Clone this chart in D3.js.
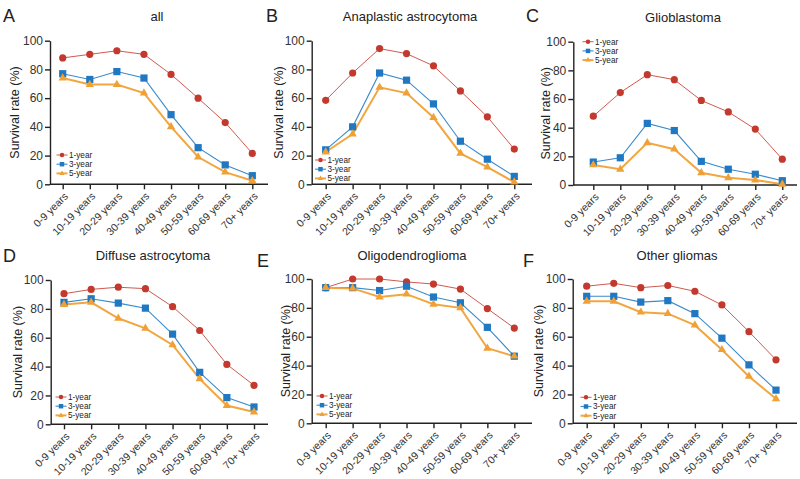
<!DOCTYPE html>
<html>
<head>
<meta charset="utf-8">
<script src="https://cdn.jsdelivr.net/npm/d3@7"></script>
<style>
  body { margin: 0; background: #fff; }
  svg { font-family: "Liberation Sans", Arial, sans-serif; }
  .axis path, .axis line { stroke: #222; stroke-width: 1.4; }
  .axis text { fill: #333; }
</style>
</head>
<body>
<div id="chart"></div>
<script>
// age groups on every x axis
var ageGroups = ["0-9 years", "10-19 years", "20-29 years", "30-39 years",
                 "40-49 years", "50-59 years", "60-69 years", "70+ years"];
var yTicks = [0, 20, 40, 60, 80, 100];
var seriesNames = ["1-year", "3-year", "5-year"];
var panelTitles = ["all", "Anaplastic astrocytoma", "Glioblastoma",
                   "Diffuse astrocytoma", "Oligodendroglioma", "Other gliomas"];
var panelLetters = ["A", "B", "C", "D", "E", "F"];

// survival rate (%) per panel: 1-year, 3-year, 5-year
var allOne   = [88, 90.5, 93, 90.5, 76.5, 60, 43, 21.5];
var allThree = [77, 73, 78.5, 74, 48.5, 25.5, 13.5, 6];
var allFive  = [74, 69.5, 69.5, 63.5, 40, 19, 8.5, 2.5];

var anaOne   = [58.5, 77.5, 94.5, 91, 82.5, 65, 47, 24.5];
var anaThree = [24, 40, 77.5, 72.5, 56, 30, 17.5, 5.5];
var anaFive  = [22.5, 35, 67.5, 63.5, 46.5, 21.5, 12, 1.5];

var gbmOne   = [48, 64.5, 77, 73.5, 59, 51, 39, 18];
var gbmThree = [16, 19, 43, 38, 16.5, 11, 7.5, 3];
var gbmFive  = [14, 11, 29.5, 25, 8.5, 5, 3.5, 0.5];

var difOne   = [90.5, 93.5, 95, 94, 81.5, 65, 41.5, 27];
var difThree = [84.5, 87, 84, 80.5, 62.5, 36, 18.5, 12];
var difFive  = [83, 84.5, 73.5, 66.5, 55, 31.5, 13, 8.5];

var oliOne   = [94, 100, 100, 98, 96.5, 93, 79.5, 66];
var oliThree = [94, 94, 92, 95, 87.5, 83.5, 66.5, 46.5];
var oliFive  = [94, 93.5, 87.5, 89.5, 82.5, 80, 52, 46.5];

var othOne   = [95, 97, 94, 95.5, 91.5, 82, 63.5, 44];
var othThree = [88, 88, 84, 85, 76, 59, 40.5, 23];
var othFive  = [84.5, 84.5, 77, 76, 68, 51, 32.5, 17];

var panelValues = [
  [allOne, allThree, allFive],
  [anaOne, anaThree, anaFive],
  [gbmOne, gbmThree, gbmFive],
  [difOne, difThree, difFive],
  [oliOne, oliThree, oliFive],
  [othOne, othThree, othFive]
];

// layout of each panel (pixels)
var layout = [
  {ax: 50,    y0: 184.3, y100: 40.7, x0: 62.7,  x1: 252.3, xEnd: 268, lab: 35, tx: 157, ty: 21, lx: 3,   ly: 22,  legX: 56.5, legY: 155},
  {ax: 311.7, y0: 184.3, y100: 40.7, x0: 325.7, x1: 514.3, xEnd: 532, lab: 33, tx: 410, ty: 21, lx: 266, ly: 22,  legX: 315,  legY: 160},
  {ax: 573.3, y0: 185,   y100: 41.7, x0: 593.3, x1: 782.3, xEnd: 797, lab: 28, tx: 683, ty: 22, lx: 526, ly: 22,  legX: 582.5, legY: 41.7},
  {ax: 50.7,  y0: 424.3, y100: 280,  x0: 64,    x1: 254,   xEnd: 268, lab: 33, tx: 153, ty: 260, lx: 3,  ly: 262, legX: 55.5, legY: 397},
  {ax: 311.7, y0: 423.3, y100: 279,  x0: 325.7, x1: 514.3, xEnd: 532, lab: 26, tx: 412, ty: 259.5, lx: 257, ly: 267, legX: 316.5, legY: 396},
  {ax: 572.7, y0: 423.3, y100: 279,  x0: 586.7, x1: 776,   xEnd: 797, lab: 34, tx: 677, ty: 259.5, lx: 523, ly: 267, legX: 580.5, legY: 397.3}
];

var markColor = ["#c4392d", "#1f78c1", "#f0a035"];
var lineColor = ["#cf5a4f", "#3a8acb", "#f2a640"];
var lineWidth = [1, 1.1, 2];

var svg = d3.select("#chart").append("svg")
    .attr("width", 800).attr("height", 479);
svg.append("rect").attr("width", 800).attr("height", 479).attr("fill", "#fff");

function drawMarker(g, k, cx, cy, s) {
  // k: 0 circle, 1 square, 2 triangle
  if (k == 0) {
    g.append("circle").attr("cx", cx).attr("cy", cy).attr("r", 3.6 * s)
      .attr("fill", markColor[0]);
  } else if (k == 1) {
    var w = 7.2 * s;
    g.append("rect").attr("x", cx - w / 2).attr("y", cy - w / 2)
      .attr("width", w).attr("height", w).attr("fill", markColor[1]);
  } else {
    g.append("path")
      .attr("d", d3.symbol().type(d3.symbolTriangle).size(30 * s * s)())
      .attr("transform", "translate(" + cx + "," + cy + ")")
      .attr("fill", markColor[2]);
  }
}

panelValues.forEach(function(vals, p) {
  var L = layout[p];
  var g = svg.append("g");

  var x = d3.scalePoint().domain(ageGroups).range([L.x0, L.x1]);
  var y = d3.scaleLinear().domain([0, 100]).range([L.y0, L.y100]);

  // y axis
  g.append("g").attr("class", "axis")
    .attr("transform", "translate(" + L.ax + ",0)")
    .call(d3.axisLeft(y).tickValues(yTicks).tickSize(5).tickSizeOuter(0).tickPadding(2))
    .selectAll("text").attr("font-size", 12);

  // x axis
  var xa = g.append("g").attr("class", "axis")
    .attr("transform", "translate(0," + L.y0 + ")")
    .call(d3.axisBottom(x).tickSize(5).tickSizeOuter(0));
  xa.select(".domain").attr("d", "M" + L.ax + ",0H" + L.xEnd);
  xa.selectAll("text")
    .attr("font-size", 10.5)
    .attr("text-anchor", "end")
    .attr("x", 0).attr("y", 0).attr("dy", "0.35em")
    .attr("transform", "translate(3,10) rotate(-45)");

  // y label
  g.append("text")
    .attr("transform", "translate(" + (L.ax - L.lab) + "," + ((L.y0 + L.y100) / 2) + ") rotate(-90)")
    .attr("text-anchor", "middle").attr("dy", "0.35em")
    .attr("font-size", 12.5).attr("fill", "#222")
    .text("Survival rate (%)");

  // title and panel letter
  g.append("text").attr("x", L.tx).attr("y", L.ty)
    .attr("text-anchor", "middle").attr("font-size", 13).attr("fill", "#222")
    .text(panelTitles[p]);
  g.append("text").attr("x", L.lx).attr("y", L.ly)
    .attr("font-size", 18).attr("fill", "#222")
    .text(panelLetters[p]);

  // series lines + markers
  vals.forEach(function(v, k) {
    var line = d3.line().x(function(d, i) { return x(ageGroups[i]); })
                        .y(function(d) { return y(d); });
    g.append("path").datum(v).attr("d", line)
      .attr("fill", "none").attr("stroke", lineColor[k]).attr("stroke-width", lineWidth[k]);
  });
  vals.forEach(function(v, k) {
    v.forEach(function(d, i) { drawMarker(g, k, x(ageGroups[i]), y(d), 1); });
  });

  // legend
  seriesNames.forEach(function(name, k) {
    var ry = L.legY + k * 9.2;
    g.append("line").attr("x1", L.legX).attr("x2", L.legX + 11)
      .attr("y1", ry).attr("y2", ry)
      .attr("stroke", lineColor[k]).attr("stroke-width", lineWidth[k]);
    drawMarker(g, k, L.legX + 5.5, ry, 0.62);
    g.append("text").attr("x", L.legX + 12.5).attr("y", ry).attr("dy", "0.35em")
      .attr("font-size", 8.2).attr("fill", "#222").text(name);
  });
});
</script>
</body>
</html>
